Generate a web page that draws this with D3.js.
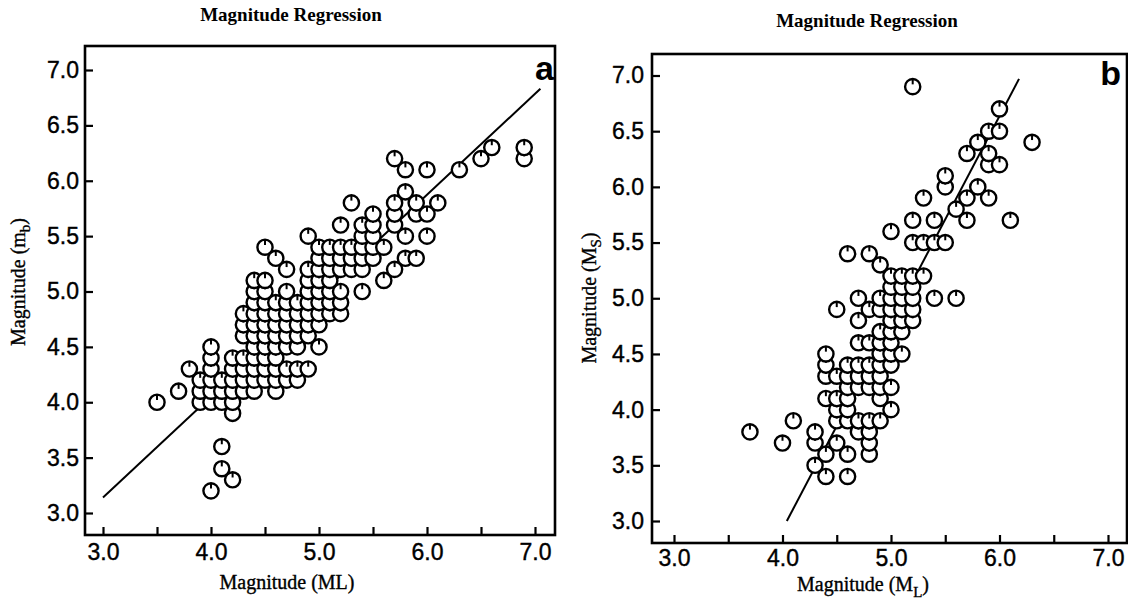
<!DOCTYPE html>
<html><head><meta charset="utf-8">
<script src="https://cdn.jsdelivr.net/npm/d3@7"></script>
<style>body{margin:0;background:#fff}</style>
</head><body>
<svg id="c" width="1128" height="602"></svg>
<script>
const tickValues = [3.0,3.5,4.0,4.5,5.0,5.5,6.0,6.5,7.0];
const xTickLabels = ["3.0","","4.0","","5.0","","6.0","","7.0"];
const yTickLabels = ["3.0","3.5","4.0","4.5","5.0","5.5","6.0","6.5","7.0"];
const titles = ["Magnitude Regression","Magnitude Regression"];
const panelLetters = ["a","b"];

// Panel a: rows of [mb, [ML values]]
const rowsA = [
 [3.2,[4.0]],
 [3.3,[4.2]],
 [3.4,[4.1]],
 [3.6,[4.1]],
 [3.9,[4.2]],
 [4.0,[3.5,3.9,4.0,4.1,4.2]],
 [4.1,[3.7,3.9,4.0,4.1,4.2,4.3,4.4,4.6]],
 [4.2,[3.9,4.0,4.1,4.2,4.3,4.4,4.5,4.6,4.7,4.8]],
 [4.3,[3.8,4.0,4.2,4.3,4.4,4.5,4.6,4.7,4.8,4.9]],
 [4.4,[4.0,4.2,4.3,4.4,4.5,4.6]],
 [4.5,[4.0,4.4,4.5,4.6,4.7,4.8,5.0]],
 [4.6,[4.3,4.4,4.5,4.6,4.7,4.8,4.9]],
 [4.7,[4.3,4.4,4.5,4.6,4.7,4.8,4.9,5.0]],
 [4.8,[4.3,4.4,4.5,4.6,4.7,4.8,4.9,5.0,5.1,5.2]],
 [4.9,[4.4,4.5,4.6,4.7,4.8,4.9,5.0,5.1,5.2]],
 [5.0,[4.4,4.5,4.7,4.9,5.0,5.1,5.2,5.4]],
 [5.1,[4.4,4.5,4.9,5.0,5.1,5.6]],
 [5.2,[4.7,4.9,5.0,5.1,5.2,5.3,5.4,5.7]],
 [5.3,[4.6,5.0,5.1,5.2,5.3,5.4,5.5,5.8,5.9]],
 [5.4,[4.5,5.0,5.1,5.2,5.3,5.4,5.5,5.6]],
 [5.5,[4.9,5.4,5.5,5.8,6.0]],
 [5.6,[5.2,5.4,5.5,5.7]],
 [5.7,[5.5,5.7,5.9,6.0]],
 [5.8,[5.3,5.7,5.9,6.1]],
 [5.9,[5.8]],
 [6.1,[5.8,6.0,6.3]],
 [6.2,[5.7,6.5,6.9]],
 [6.3,[6.6,6.9]]
];
// Panel b: rows of [Ms, [ML values]]
const rowsB = [
 [3.4,[4.4,4.6]],
 [3.5,[4.3]],
 [3.6,[4.4,4.6,4.8]],
 [3.7,[4.0,4.3,4.5,4.8]],
 [3.8,[3.7,4.3,4.7,4.8]],
 [3.9,[4.1,4.5,4.6,4.7,4.8,4.9]],
 [4.0,[4.5,4.6,5.0]],
 [4.1,[4.4,4.5,4.6,4.9]],
 [4.2,[4.6,4.7,4.8,4.9,5.0]],
 [4.3,[4.4,4.5,4.6,4.7,4.8,4.9]],
 [4.4,[4.4,4.6,4.7,4.8,4.9,5.0]],
 [4.5,[4.4,4.9,5.0,5.1]],
 [4.6,[4.7,4.8,4.9,5.0]],
 [4.7,[4.9,5.0,5.1]],
 [4.8,[4.7,5.0,5.1,5.2]],
 [4.9,[4.5,4.8,4.9,5.0,5.1,5.2]],
 [5.0,[4.7,4.9,5.0,5.1,5.2,5.4,5.6]],
 [5.1,[5.0,5.1,5.2]],
 [5.2,[5.0,5.1,5.2,5.3]],
 [5.3,[4.9]],
 [5.4,[4.6,4.8]],
 [5.5,[5.2,5.3,5.4,5.5]],
 [5.6,[5.0]],
 [5.7,[5.2,5.4,5.7,6.1]],
 [5.8,[5.6]],
 [5.9,[5.3,5.7,5.9]],
 [6.0,[5.5,5.8]],
 [6.1,[5.5]],
 [6.2,[5.9,6.0]],
 [6.3,[5.7,5.9]],
 [6.4,[5.8,6.3]],
 [6.5,[5.9,6.0]],
 [6.7,[6.0]],
 [6.9,[5.2]]
];
// regression lines: [[ML, M], [ML, M]]
const lineA = [[3.0,3.14],[7.05,6.83]];
const lineB = [[4.04,3.0],[6.18,6.97]];

const svg = d3.select("#c");
const serif = "'Liberation Serif','Times New Roman',serif";
const sans = "'Liberation Sans',Arial,sans-serif";

function flatten(rows){
  const pts=[];
  rows.forEach(([yv,xs])=>xs.forEach(xv=>pts.push([xv,yv])));
  pts.sort((p,q)=>p[1]-q[1]||p[0]-q[0]);
  return pts;
}

function panel(cfg){
  const g = svg.append("g");
  const x = d3.scaleLinear([3,7],[cfg.x3,cfg.x7]);
  const y = d3.scaleLinear([3,7],[cfg.y3,cfg.y7]);

  g.append("rect").attr("x",cfg.left).attr("y",cfg.top)
    .attr("width",cfg.right-cfg.left).attr("height",cfg.bottom-cfg.top)
    .attr("fill","none").attr("stroke","#000").attr("stroke-width",2.6);

  const xa = d3.axisBottom(x).tickValues(tickValues)
    .tickFormat((d,i)=>xTickLabels[i]).tickSizeInner(-8).tickSizeOuter(0).tickPadding(cfg.xpad);
  const ya = d3.axisLeft(y).tickValues(tickValues)
    .tickFormat((d,i)=>yTickLabels[i]).tickSizeInner(-8).tickSizeOuter(0).tickPadding(cfg.ypad);
  const gx = g.append("g").attr("transform",`translate(0,${cfg.bottom})`).call(xa);
  const gy = g.append("g").attr("transform",`translate(${cfg.left},0)`).call(ya);
  [gx,gy].forEach(s=>{
    s.select(".domain").remove();
    s.selectAll(".tick line").attr("stroke","#000").attr("stroke-width",2.2);
    s.selectAll(".tick text").attr("fill","#000").attr("font-family",sans)
      .attr("font-size",23).attr("stroke","#000").attr("stroke-width",0.4);
  });

  g.append("path").datum(cfg.line)
    .attr("d",d3.line().x(d=>x(d[0])).y(d=>y(d[1])))
    .attr("fill","none").attr("stroke","#000").attr("stroke-width",2);

  const r = 7.6;
  const pg = g.append("g").selectAll("g").data(flatten(cfg.rows)).join("g")
    .attr("transform",d=>`translate(${x(d[0])},${y(d[1])})`);
  pg.append("circle").attr("r",r).attr("fill","#fff").attr("stroke","#000").attr("stroke-width",2.4);
  pg.append("line").attr("x1",0).attr("x2",0).attr("y1",-r).attr("y2",-r*0.3)
    .attr("stroke","#000").attr("stroke-width",2);

  g.append("text").attr("x",cfg.titleX).attr("y",cfg.titleY).attr("text-anchor","middle")
    .attr("font-family",serif).attr("font-weight","bold").attr("font-size",19).text(cfg.title);

  g.append("text").attr("x",cfg.letterX).attr("y",cfg.letterY).attr("text-anchor","end")
    .attr("font-family",sans).attr("font-weight","bold").attr("font-size",34).text(cfg.letter);

  const xl = g.append("text").attr("x",cfg.xlabX).attr("y",cfg.xlabY).attr("text-anchor","middle")
    .attr("font-family",serif).attr("font-size",20).attr("stroke","#000").attr("stroke-width",0.35);
  xl.append("tspan").text("Magnitude (M");
  if(cfg.xsub){
    xl.append("tspan").attr("font-size",15).attr("dy",6).text(cfg.xsub);
    xl.append("tspan").attr("dy",-6).text(")");
  } else { xl.append("tspan").text("L)"); }

  const yl = g.append("text").attr("transform",`translate(${cfg.ylabX},${cfg.ylabY}) rotate(-90)`)
    .attr("text-anchor","middle").attr("font-family",serif).attr("font-size",20)
    .attr("stroke","#000").attr("stroke-width",0.35);
  yl.append("tspan").text(cfg.ymain);
  yl.append("tspan").attr("font-size",15).attr("dy",5).text(cfg.ysub);
  yl.append("tspan").attr("dy",-5).text(")");
}

panel({x3:103,x7:535,y3:513,y7:70,left:85,right:555,top:46,bottom:535,xpad:9,ypad:6,
  rows:rowsA,line:lineA,title:titles[0],titleX:291,titleY:21,letter:panelLetters[0],letterX:554,letterY:80,
  xlabX:287,xlabY:589,xsub:null,ylabX:25,ylabY:282,ymain:"Magnitude (m",ysub:"b"});
panel({x3:674,x7:1108,y3:521,y7:75.5,left:652,right:1127,top:54,bottom:543,xpad:7,ypad:8,
  rows:rowsB,line:lineB,title:titles[1],titleX:867,titleY:27,letter:panelLetters[1],letterX:1121,letterY:85,
  xlabX:863,xlabY:591,xsub:"L",ylabX:596,ylabY:298,ymain:"Magnitude (M",ysub:"S"});
</script>
</body></html>
